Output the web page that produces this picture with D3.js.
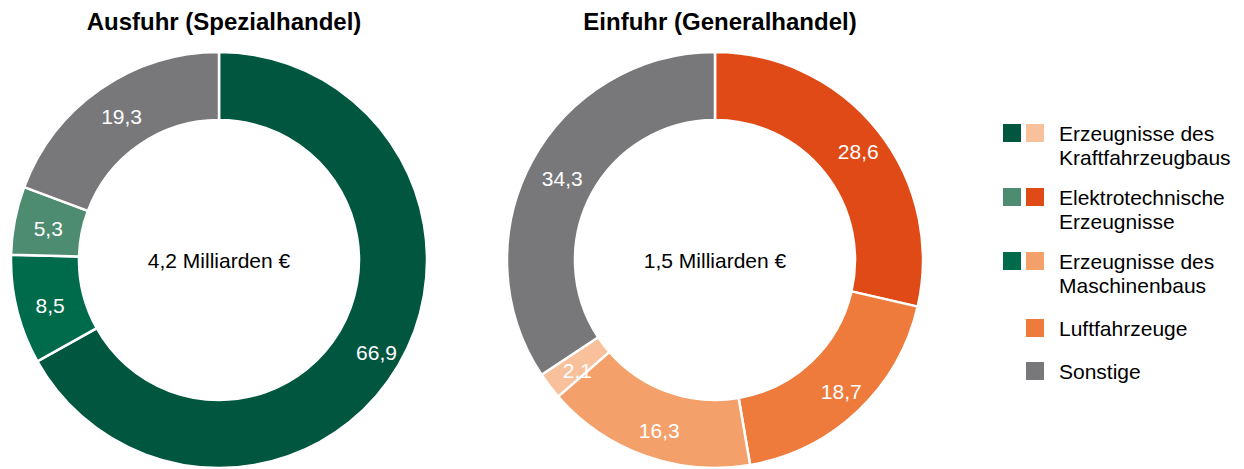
<!DOCTYPE html>
<html><head><meta charset="utf-8">
<script src="https://cdn.jsdelivr.net/npm/d3@7"></script>
<style>body{margin:0;background:#fff}svg{display:block;font-family:"Liberation Sans",Arial,sans-serif}</style>
</head><body><svg id="c" width="1244" height="469"></svg>
<script>
const categories = ["Erzeugnisse des Kraftfahrzeugbaus","Elektrotechnische Erzeugnisse","Erzeugnisse des Maschinenbaus","Luftfahrzeuge","Sonstige"];
const exportLabels = ["Kraftfahrzeugbau","Maschinenbau","Elektrotechnik","Sonstige"];
const exportValues = [66.9, 8.5, 5.3, 19.3];
const importLabels = ["Elektrotechnik","Luftfahrzeuge","Maschinenbau","Kraftfahrzeugbau","Sonstige"];
const importValues = [28.6, 18.7, 16.3, 2.1, 34.3];
const titles = ["Ausfuhr (Spezialhandel)","Einfuhr (Generalhandel)"];
const totals = ["4,2 Milliarden €","1,5 Milliarden €"];
const exportColors = {"Kraftfahrzeugbau":"#00563F","Maschinenbau":"#006B4B","Elektrotechnik":"#4E8C72","Sonstige":"#78787A"};
const importColors = {"Kraftfahrzeugbau":"#F9C19B","Elektrotechnik":"#E04A16","Maschinenbau":"#F4A06A","Luftfahrzeuge":"#EE7A3C","Sonstige":"#78787A"};
const legendColors = [["#00563F","#F9C19B"],["#4E8C72","#E04A16"],["#006B4B","#F4A06A"],[null,"#EE7A3C"],[null,"#78787A"]];
const legendLines = [["Erzeugnisse des","Kraftfahrzeugbaus"],["Elektrotechnische","Erzeugnisse"],["Erzeugnisse des","Maschinenbaus"],["Luftfahrzeuge"],["Sonstige"]];

const svg = d3.select("#c");
const fmt = v => d3.format(".1f")(v).replace(".", ",");
const R = 208, r0 = 140;
const arc = d3.arc().innerRadius(r0).outerRadius(R);
const labelArc = d3.arc().innerRadius(178).outerRadius(178);
const pie = d3.pie().sort(null).value(d => d.v);

function donut(cx, cy, labels, values, colors, title, total) {
  const g = svg.append("g").attr("transform", `translate(${cx},${cy})`);
  const data = pie(labels.map((l, i) => ({l, v: values[i]})));
  g.selectAll("path").data(data).join("path")
    .attr("d", arc).attr("fill", d => colors[d.data.l])
    .attr("stroke", "#fff").attr("stroke-width", 2.5);
  g.selectAll("text.v").data(data).join("text").attr("class","v")
    .attr("transform", d => { const [x, y] = labelArc.centroid(d); return `translate(${x + 4},${y + 2.5})`; })
    .attr("text-anchor","middle").attr("dy","0.36em")
    .attr("fill","#fff").attr("font-size", 21).text(d => fmt(d.data.v));
  g.append("text").attr("text-anchor","middle").attr("y", 8)
    .attr("font-size", 21).attr("fill","#000").text(total);
  svg.append("text").attr("x", cx + 5).attr("y", 30).attr("text-anchor","middle")
    .attr("font-size", 24).attr("font-weight","bold").attr("fill","#000").text(title);
}
donut(219, 260, exportLabels, exportValues, exportColors, titles[0], totals[0]);
donut(715, 260, importLabels, importValues, importColors, titles[1], totals[1]);

const legY = [124, 188, 252, 319, 362];
const lg = svg.append("g");
categories.forEach((c, i) => {
  const [a, b] = legendColors[i];
  if (a) lg.append("rect").attr("x", 1003).attr("y", legY[i]).attr("width", 18).attr("height", 18).attr("fill", a);
  lg.append("rect").attr("x", 1026).attr("y", legY[i]).attr("width", 18).attr("height", 18).attr("fill", b);
  legendLines[i].forEach((t, j) => {
    lg.append("text").attr("x", 1059).attr("y", legY[i] + 17 + j * 23.5)
      .attr("font-size", 21).attr("fill", "#000").text(t);
  });
});
</script></body></html>
